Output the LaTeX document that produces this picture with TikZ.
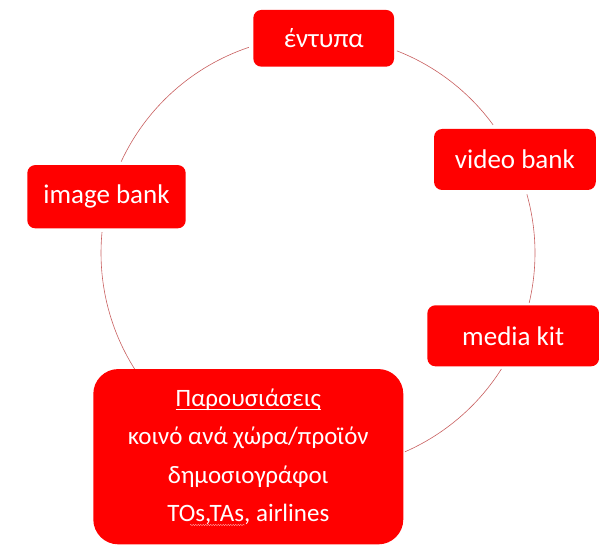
\documentclass[tikz,border=0pt]{standalone}
\usepackage{fontspec}
\setmainfont{Carlito}
\usetikzlibrary{decorations.pathmorphing}
\definecolor{boxred}{RGB}{255,0,0}
\definecolor{arcred}{RGB}{200,95,95}
\definecolor{squig}{RGB}{255,175,175}
\newcommand\myul[1]{\setbox0=\hbox{#1}\rlap{\rule[-3.2pt]{\wd0}{1.1pt}}\box0}
\begin{document}
\begin{tikzpicture}[x=1pt,y=1pt,
  box/.style={fill=boxred, rounded corners=8pt, text=white, inner sep=0pt,
    font=\fontsize{27}{32}\selectfont},
  bigbox/.style={fill=boxred, rounded corners=25pt, text=white, inner sep=0pt,
    align=center, font=\fontsize{25}{38.3}\selectfont},
  arcline/.style={draw=arcred, line width=0.6pt},
  squiggle/.style={draw=squig, line width=0.4pt, decorate,
    decoration={snake, amplitude=0.6pt, segment length=2.5pt}}]
\useasboundingbox (0,0) rectangle (599,547);
\coordinate (c) at (318,294);
% arcs of the cycle
\draw[arcline] ([shift={(155.1:217)}]c) arc[start angle=155.1, end angle=108.6, radius=217];
\draw[arcline] ([shift={(68.7:217)}]c) arc[start angle=68.7, end angle=36.2, radius=217];
\draw[arcline] ([shift={(15.7:217)}]c) arc[start angle=15.7, end angle=-13.3, radius=217];
\draw[arcline] ([shift={(-32.3:217)}]c) arc[start angle=-32.3, end angle=-66.4, radius=217];
\draw[arcline] ([shift={(-146.6:217)}]c) arc[start angle=-146.6, end angle=-185.5, radius=217];
% boxes
\node[box, minimum width=140.7, minimum height=56.7] (entypa) at (323.7,508.7) {έντυπα};
\node[box, minimum width=161.7, minimum height=61] (video) at (514.9,387.5) {video bank};
\node[box, minimum width=158.4, minimum height=63.3] (image) at (106.5,350.3) {image bank};
\node[box, minimum width=171.7, minimum height=61] (media) at (513.2,211.2) {media kit};
\node[bigbox, minimum width=310, minimum height=175.3] (pres) at (248.3,90.3)
  {\myul{Παρουσιάσεις}\\κοινό ανά χώρα/προϊόν\\δημοσιογράφοι\\TOs,TAs, airlines};
\coordinate (sq1) at (190,22);
\coordinate (sq2) at (245,22);
\draw[squiggle] (sq1) -- (sq2);
\end{tikzpicture}
\end{document}
